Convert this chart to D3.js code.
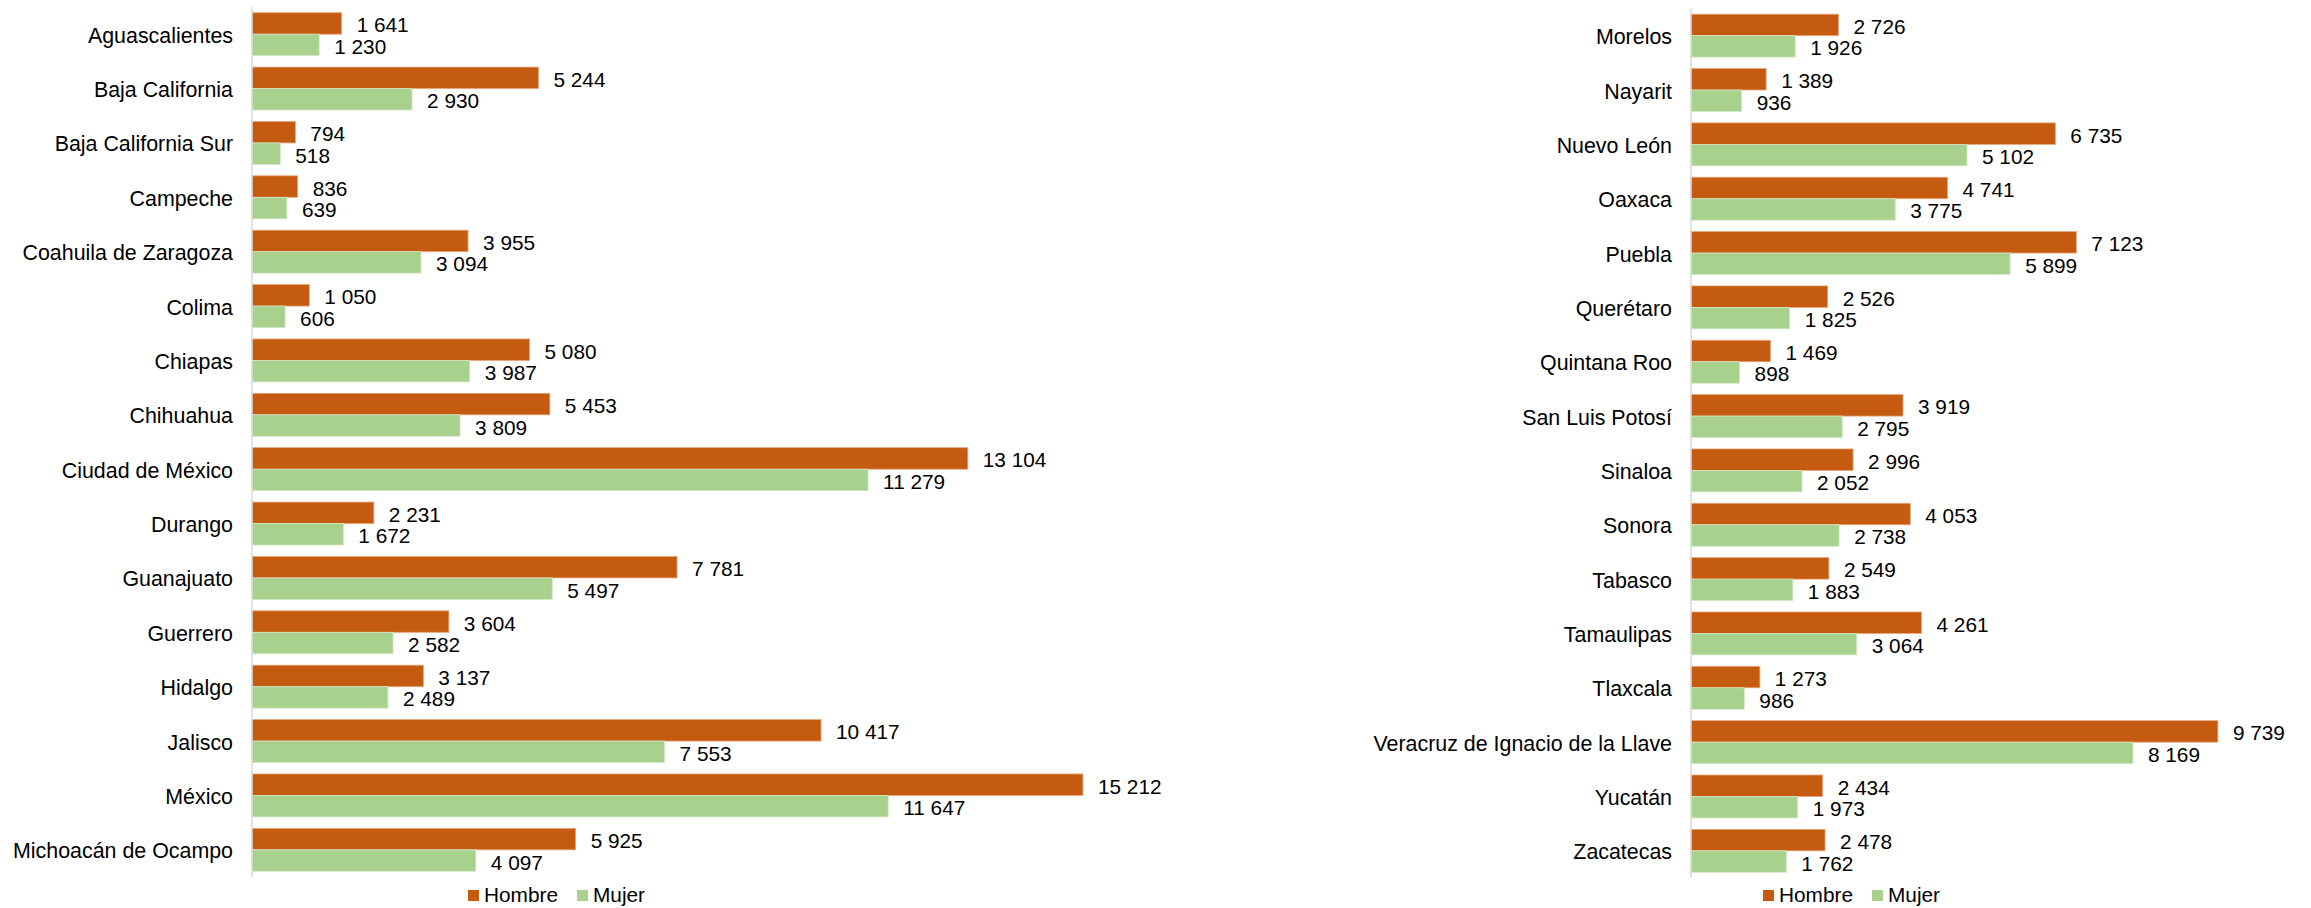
<!DOCTYPE html>
<html>
<head>
<meta charset="utf-8">
<script src="https://cdn.jsdelivr.net/npm/d3@7"></script>
<style>
  html, body { margin: 0; padding: 0; background: #fff; }
  svg { display: block; }
  text { font-family: "Liberation Sans", Arial, sans-serif; fill: #000; }
</style>
</head>
<body>
<svg id="chart" width="2311" height="908"></svg>
<script>
// Entidades federativas, first half
const statesA = ["Aguascalientes", "Baja California", "Baja California Sur", "Campeche",
  "Coahuila de Zaragoza", "Colima", "Chiapas", "Chihuahua", "Ciudad de México", "Durango",
  "Guanajuato", "Guerrero", "Hidalgo", "Jalisco", "México", "Michoacán de Ocampo"];
const hombreA = [1641, 5244, 794, 836, 3955, 1050, 5080, 5453, 13104, 2231, 7781, 3604, 3137, 10417, 15212, 5925];
const mujerA  = [1230, 2930, 518, 639, 3094, 606, 3987, 3809, 11279, 1672, 5497, 2582, 2489, 7553, 11647, 4097];

// Entidades federativas, second half
const statesB = ["Morelos", "Nayarit", "Nuevo León", "Oaxaca", "Puebla", "Querétaro",
  "Quintana Roo", "San Luis Potosí", "Sinaloa", "Sonora", "Tabasco", "Tamaulipas",
  "Tlaxcala", "Veracruz de Ignacio de la Llave", "Yucatán", "Zacatecas"];
const hombreB = [2726, 1389, 6735, 4741, 7123, 2526, 1469, 3919, 2996, 4053, 2549, 4261, 1273, 9739, 2434, 2478];
const mujerB  = [1926, 936, 5102, 3775, 5899, 1825, 898, 2795, 2052, 2738, 1883, 3064, 986, 8169, 1973, 1762];

const seriesNames = ["Hombre", "Mujer"];
const seriesColors = ["#C55A11", "#A9D18E"];
const seriesStroke = ["#E9A57A", "#D3E8C4"];

const fmt = d3.formatLocale({ decimal: ".", thousands: " ", grouping: [3], currency: ["$", ""] }).format(",d");
const svg = d3.select("#chart");
const FONT = 20.8;
const CAT_FONT = 21.4;

function panel(cfg) {
  const { states, hombre, mujer, xRange, xMax, yRange, legendX } = cfg;
  const rows = states.map((s, i) => ({ state: s, values: [hombre[i], mujer[i]] }));

  const y = d3.scaleBand().domain(states).range(yRange).paddingInner(0.21).paddingOuter(0.105);
  const ySub = d3.scaleBand().domain(seriesNames).range([0, y.bandwidth()]);
  const x = d3.scaleLinear().domain([0, xMax]).range(xRange);

  const g = svg.append("g");

  const groups = g.selectAll("g.row").data(rows).join("g")
    .attr("class", "row")
    .attr("transform", d => `translate(0,${y(d.state)})`);

  groups.selectAll("rect").data(d => d.values.map((v, k) => ({ v, k }))).join("rect")
    .attr("x", x(0))
    .attr("y", d => ySub(seriesNames[d.k]))
    .attr("width", d => x(d.v) - x(0))
    .attr("height", ySub.bandwidth())
    .attr("fill", d => seriesColors[d.k])
    .attr("stroke", d => seriesStroke[d.k])
    .attr("stroke-width", 0.8);

  groups.selectAll("text.val").data(d => d.values.map((v, k) => ({ v, k }))).join("text")
    .attr("class", "val")
    .attr("x", d => x(d.v) + 15)
    .attr("y", d => ySub(seriesNames[d.k]) + ySub.bandwidth() / 2 + 1.5)
    .attr("dominant-baseline", "central")
    .attr("font-size", FONT)
    .text(d => fmt(d.v));

  // category axis
  const axis = g.append("g").attr("transform", `translate(${x(0)},0)`)
    .call(d3.axisLeft(y).tickSize(0).tickPadding(19));
  axis.select(".domain").attr("stroke", "#D9D9D9").attr("stroke-width", 1.5)
    .attr("d", `M0,${yRange[0]}V${yRange[1]}`);
  axis.selectAll(".tick text")
    .attr("font-size", CAT_FONT)
    .attr("font-family", "Liberation Sans, Arial, sans-serif")
    .attr("fill", "#000")
    .attr("dy", "0.35em")
    .attr("y", 1);

  // legend
  const lg = g.append("g").attr("transform", `translate(${legendX},890)`);
  const items = lg.selectAll("g").data(seriesNames).join("g")
    .attr("transform", (d, i) => `translate(${i * 109},0)`);
  items.append("rect").attr("width", 11).attr("height", 11)
    .attr("fill", (d, i) => seriesColors[i]);
  items.append("text").attr("x", 16).attr("y", 11.5)
    .attr("font-size", FONT).text(d => d);
}

panel({ states: statesA, hombre: hombreA, mujer: mujerA,
  xRange: [252, 1126], xMax: 16000, yRange: [7, 877], legendX: 468 });
panel({ states: statesB, hombre: hombreB, mujer: mujerB,
  xRange: [1691, 2232], xMax: 10000, yRange: [8.5, 878], legendX: 1763 });
</script>
</body>
</html>
